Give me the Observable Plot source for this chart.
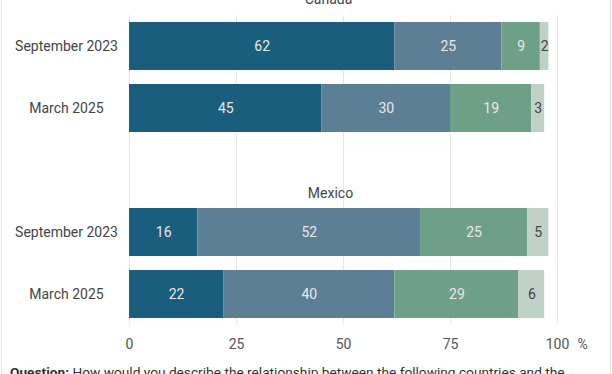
<!DOCTYPE html>
<html>
<head>
<meta charset="utf-8">
<script src="https://cdn.jsdelivr.net/npm/d3@7"></script>
<script src="https://cdn.jsdelivr.net/npm/@observablehq/plot@0.6"></script>
<style>
  html, body { margin: 0; padding: 0; background: #fff; overflow: hidden; }
  body { width: 612px; height: 374px; position: relative; font-family: Roboto, "Noto Sans", sans-serif; }
  #chart { position: absolute; left: 0; top: -20px; }
  #caption { position: absolute; left: 10px; top: 364px; width: 590px; font-size: 13.7px; line-height: 17px; color: #333; background: #fff; }
  .vline { position: absolute; top: 0; width: 1px; height: 374px; background: #e2e2e2; }
</style>
</head>
<body>
<div class="vline" style="left:1px"></div>
<div class="vline" style="left:610px"></div>
<div id="chart"></div>
<div id="caption"><b>Question:</b> How would you describe the relationship between the following countries and the United States?</div>
<script>
const countries = ["Canada", "Mexico"];
const waves = ["September 2023", "March 2025"];
const series = ["Ally", "Friendly", "Unfriendly", "Enemy"];
const canadaValues = [[62, 25, 9, 2], [45, 30, 19, 3]];
const mexicoValues = [[16, 52, 25, 5], [22, 40, 29, 6]];
const xTicks = [0, 25, 50, 75, 100];
const xUnit = "%";
const colors = ["#1a5e7d", "#5c7f95", "#6ea087", "#c0d2c6"];

const valuesByCountry = {Canada: canadaValues, Mexico: mexicoValues};
const rows = [];
countries.forEach(c => waves.forEach((w, wi) => series.forEach((s, si) => {
  rows.push({country: c, wave: w, row: c + "|" + w, series: s, value: valuesByCountry[c][wi][si]});
})));
const rowLabels = [];
countries.forEach(c => waves.forEach(w => rowLabels.push({row: c + "|" + w, wave: w})));
const yDomain = [countries[0] + "|" + waves[0], countries[0] + "|" + waves[1], "gap", countries[1] + "|" + waves[0], countries[1] + "|" + waves[1]];

const last = series[series.length - 1];
const stackOpts = {x: "value", y: "row", z: "series", order: series};

const chart = Plot.plot({
  width: 612,
  height: 378,
  marginLeft: 129,
  marginRight: 55,
  marginTop: 35,
  marginBottom: 33,
  style: {fontFamily: "Roboto, sans-serif", fontSize: "14px", background: "transparent"},
  x: {domain: [0, 100], axis: null, label: null},
  y: {type: "band", domain: yDomain, paddingInner: 14 / 62, paddingOuter: 7 / 62, axis: null},
  color: {domain: series, range: colors},
  marks: [
    Plot.ruleX(xTicks, {x: d => d, stroke: "#e6e6e6", strokeWidth: 1}),
    Plot.barX(rows, {x: "value", y: "row", fill: "series", order: series}),
    Plot.text(rows, Plot.stackX({...stackOpts, text: d => d.series !== last ? String(d.value) : null, fill: "#e8e8e8", fontSize: 14})),
    Plot.text(rows, Plot.stackX({...stackOpts, text: d => d.series === last ? String(d.value) : null, fill: "#444", fontSize: 14})),
    Plot.text(rowLabels, {y: "row", text: "wave", frameAnchor: "left", dx: -63, textAnchor: "middle", fill: "#444", fontSize: 14}),
    Plot.text([countries[0]], {y: () => yDomain[0], text: d => d, dy: -46.5, dx: -15, fill: "#444", fontSize: 14}),
    Plot.text([countries[1]], {y: () => yDomain[3], text: d => d, dy: -39, dx: -13, fill: "#444", fontSize: 14}),
    Plot.text(xTicks, {x: d => d, text: d => String(d), frameAnchor: "bottom", dy: 23, fill: "#555", fontSize: 14}),
    Plot.text([xUnit], {x: () => 100, text: d => d, frameAnchor: "bottom", dy: 23, dx: 20, textAnchor: "start", fill: "#555", fontSize: 14})
  ]
});
document.getElementById("chart").appendChild(chart);
</script>
</body>
</html>
